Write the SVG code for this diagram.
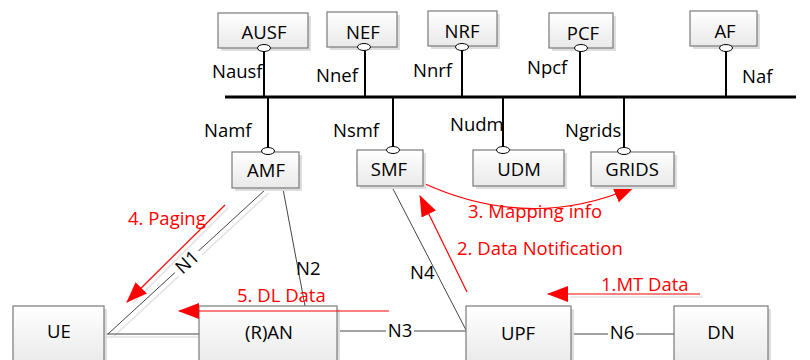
<svg xmlns="http://www.w3.org/2000/svg" width="810" height="360" viewBox="0 0 810 360">
  <defs>
    <linearGradient id="boxFill" x1="0" y1="0" x2="0" y2="1">
      <stop offset="0" stop-color="#ffffff"/>
      <stop offset="1" stop-color="#e9e9e9"/>
    </linearGradient>
    <marker id="redHead" markerUnits="userSpaceOnUse" markerWidth="22" markerHeight="16" refX="20" refY="8" orient="auto">
      <path d="M0,0 L21,8 L0,16 Z" fill="#ff0000"/>
    </marker>
    <style>
      .box { fill: url(#boxFill); stroke: #7a7a7a; stroke-width: 1.2; }
      .shadow { fill: #dedede; }
      .port { fill: #ffffff; stroke: #000000; stroke-width: 1; }
      .svc { stroke: #000000; stroke-width: 2; fill: none; }
      .link { stroke: #444444; stroke-width: 1; fill: none; }
      .ghost { stroke: #e2e2e2; stroke-width: 1.5; fill: none; }
      .msg { stroke: #ff0000; stroke-width: 1.2; fill: none; marker-end: url(#redHead); }
      .name { font-family: "Open Sans", "Liberation Sans", sans-serif; font-size: 18.5px; fill: #000000; text-anchor: middle; }
      .ref { font-family: "Open Sans", "Liberation Sans", sans-serif; font-size: 18.5px; fill: #000000; }
      .red { font-family: "Open Sans", "Liberation Sans", sans-serif; font-size: 18.5px; fill: #ff0000; }
      .mid { text-anchor: middle; }
    </style>
  </defs>

  <rect width="810" height="360" fill="#ffffff"/>

  <!-- connectors -->
  <g id="connectors">
    <!-- service bus -->
    <line x1="225" y1="97" x2="796" y2="97" stroke="#000" stroke-width="3"/>
    <!-- service interfaces above the bus -->
    <line class="svc" x1="264" y1="51" x2="264" y2="97"/>
    <line class="svc" x1="365" y1="51" x2="365" y2="97"/>
    <line class="svc" x1="462" y1="50" x2="462" y2="97"/>
    <line class="svc" x1="580" y1="51" x2="580" y2="97"/>
    <line class="svc" x1="726" y1="51" x2="726" y2="97"/>
    <!-- service interfaces below the bus -->
    <line class="svc" x1="268" y1="97" x2="268" y2="148"/>
    <line class="svc" x1="393" y1="97" x2="393" y2="147"/>
    <line class="svc" x1="503" y1="97" x2="503" y2="147"/>
    <line class="svc" x1="624" y1="97" x2="624" y2="148"/>

    <!-- reference points -->
    <line class="ghost" x1="113" y1="337" x2="269" y2="193"/>
    <line class="link" x1="108" y1="334" x2="266" y2="189"/>
    <line class="ghost" x1="106" y1="337" x2="199" y2="337"/>
    <line class="link" x1="104" y1="334" x2="199" y2="334"/>
    <line class="link" x1="283" y1="189" x2="305" y2="306"/>
    <line class="link" x1="337" y1="331" x2="466" y2="331"/>
    <line class="link" x1="392" y1="187" x2="466" y2="330"/>
    <line class="link" x1="571" y1="334" x2="674" y2="334"/>

    <!-- label backgrounds -->
    <rect x="171" y="253" width="32" height="18" fill="#fff" transform="rotate(-42.7 187 262)"/>
    <rect x="386" y="322" width="28" height="18" fill="#fff"/>
    <rect x="608" y="325" width="28" height="18" fill="#fff"/>

    <text class="ref mid" x="187" y="268.5" transform="rotate(-42.7 187 262)">N1</text>
    <text class="ref" x="296" y="275">N2</text>
    <text class="ref mid" x="400" y="337">N3</text>
    <text class="ref" x="410" y="279">N4</text>
    <text class="ref mid" x="622" y="339">N6</text>

    <!-- service interface names -->
    <text class="ref" x="212" y="78">Nausf</text>
    <text class="ref" x="316" y="82">Nnef</text>
    <text class="ref" x="413" y="77">Nnrf</text>
    <text class="ref" x="527" y="74">Npcf</text>
    <text class="ref" x="742" y="83">Naf</text>
    <text class="ref" x="204" y="137">Namf</text>
    <text class="ref" x="333" y="137">Nsmf</text>
    <text class="ref" x="450" y="131">Nudm</text>
    <text class="ref" x="565" y="137">Ngrids</text>

    <!-- message flow -->
    <line class="ghost" x1="703" y1="297" x2="570" y2="297"/>
    <line class="msg" x1="700" y1="294" x2="548" y2="294"/>
    <line class="msg" x1="467" y1="292" x2="420" y2="196"/>
    <path class="msg" d="M423,183 Q530,232 634,187"/>
    <line class="ghost" x1="228" y1="208" x2="133" y2="303"/>
    <line class="msg" x1="225" y1="205" x2="127" y2="302"/>

    <text class="red" x="601" y="291">1.MT Data</text>
    <text class="red" x="457" y="255">2. Data Notification</text>
    <text class="red" x="468" y="218">3. Mapping info</text>
    <text class="red" x="128" y="225">4. Paging</text>
    <text class="red" x="237" y="302">5. DL Data</text>
  </g>

  <!-- network functions on the service bus -->
  <g id="AUSF">
    <rect class="shadow" x="221" y="16" width="90" height="35"/>
    <rect class="box" x="218" y="13" width="90" height="35"/>
    <ellipse class="port" cx="264" cy="48" rx="6.5" ry="3.5"/>
    <text class="name" x="264" y="39">AUSF</text>
  </g>
  <g id="NEF">
    <rect class="shadow" x="330" y="15" width="70" height="35"/>
    <rect class="box" x="327" y="12" width="70" height="35"/>
    <ellipse class="port" cx="364" cy="47" rx="6.5" ry="3.5"/>
    <text class="name" x="363" y="39">NEF</text>
  </g>
  <g id="NRF">
    <rect class="shadow" x="431" y="14" width="69" height="35"/>
    <rect class="box" x="428" y="11" width="69" height="35"/>
    <ellipse class="port" cx="462" cy="47" rx="6.5" ry="3.5"/>
    <text class="name" x="462" y="38">NRF</text>
  </g>
  <g id="PCF">
    <rect class="shadow" x="552" y="16" width="64" height="35"/>
    <rect class="box" x="549" y="13" width="64" height="35"/>
    <ellipse class="port" cx="581" cy="48" rx="6.5" ry="3.5"/>
    <text class="name" x="583" y="40">PCF</text>
  </g>
  <g id="AF">
    <rect class="shadow" x="693" y="14" width="67" height="35"/>
    <rect class="box" x="690" y="11" width="67" height="35"/>
    <ellipse class="port" cx="726" cy="48" rx="6.5" ry="3.5"/>
    <text class="name" x="725" y="38">AF</text>
  </g>

  <!-- network functions below the bus -->
  <g id="AMF">
    <rect class="shadow" x="235" y="155" width="67" height="36"/>
    <rect class="box" x="232" y="152" width="67" height="36"/>
    <ellipse class="port" cx="268" cy="151" rx="6.5" ry="3.5"/>
    <text class="name" x="266" y="177">AMF</text>
  </g>
  <g id="SMF">
    <rect class="shadow" x="360" y="153" width="66" height="36"/>
    <rect class="box" x="357" y="150" width="66" height="36"/>
    <ellipse class="port" cx="393" cy="150" rx="6.5" ry="3.5"/>
    <text class="name" x="389" y="176">SMF</text>
  </g>
  <g id="UDM">
    <rect class="shadow" x="476" y="153" width="91" height="36"/>
    <rect class="box" x="473" y="150" width="91" height="36"/>
    <ellipse class="port" cx="503" cy="150" rx="6.5" ry="3.5"/>
    <text class="name" x="519" y="176">UDM</text>
  </g>
  <g id="GRIDS">
    <rect class="shadow" x="594" y="155" width="83" height="34"/>
    <rect class="box" x="591" y="152" width="83" height="34"/>
    <ellipse class="port" cx="624" cy="151" rx="6.5" ry="3.5"/>
    <text class="name" x="632" y="176">GRIDS</text>
  </g>

  <!-- access and user plane -->
  <g id="UE">
    <rect class="shadow" x="16" y="309" width="91" height="60"/>
    <rect class="box" x="13" y="306" width="91" height="60"/>
    <text class="name" x="59" y="338">UE</text>
  </g>
  <g id="RAN">
    <rect class="shadow" x="202" y="309" width="138" height="60"/>
    <rect class="box" x="199" y="306" width="138" height="60"/>
    <text class="name" x="269" y="339">(R)AN</text>
  </g>
  <g id="UPF">
    <rect class="shadow" x="469" y="309" width="105" height="60"/>
    <rect class="box" x="466" y="306" width="105" height="60"/>
    <text class="name" x="518" y="340">UPF</text>
  </g>
  <g id="DN">
    <rect class="shadow" x="677" y="309" width="94" height="60"/>
    <rect class="box" x="674" y="306" width="94" height="60"/>
    <text class="name" x="721" y="339">DN</text>
  </g>

  <!-- DL data arrow runs across the access node -->
  <line class="msg" x1="389" y1="311" x2="179" y2="311"/>
</svg>
